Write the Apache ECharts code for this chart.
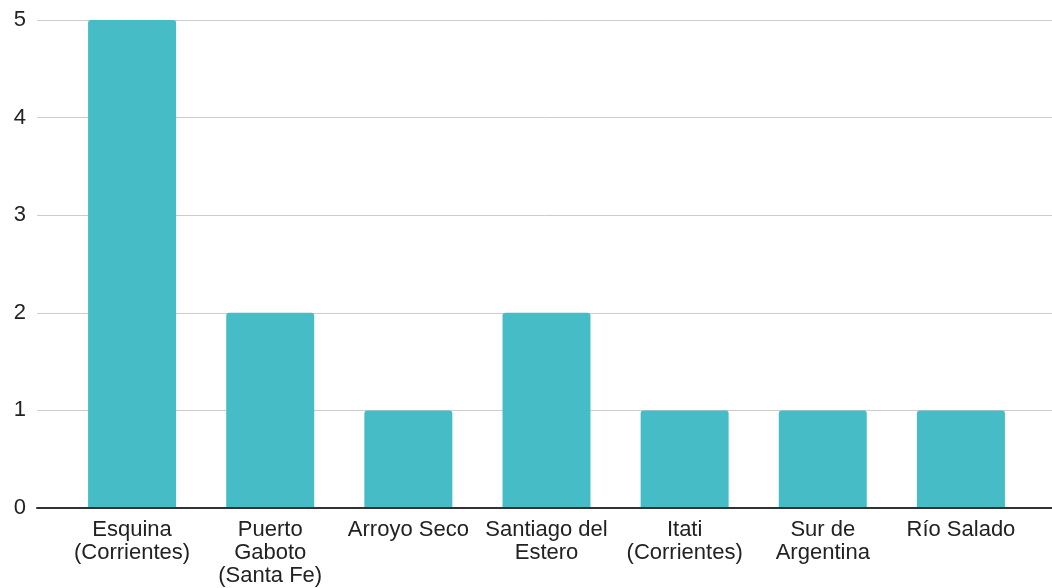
<!DOCTYPE html>
<html>
<head>
<meta charset="utf-8">
<script src="https://cdn.jsdelivr.net/npm/echarts@6/dist/echarts.min.js"></script>
<style>
html,body{margin:0;padding:0;background:#fff;}
#main{width:1052px;height:588px;}
</style>
</head>
<body>
<div id="main"></div>
<script>
const categories = ["Esquina\n(Corrientes)", "Puerto\nGaboto\n(Santa Fe)", "Arroyo Seco", "Santiago del\nEstero", "Itati\n(Corrientes)", "Sur de\nArgentina", "Río Salado"];
const values = [5, 2, 1, 2, 1, 1, 1];
const yTicks = [0, 1, 2, 3, 4, 5];

const chart = echarts.init(document.getElementById('main'));
const font = "'Liberation Sans', Arial, sans-serif";
chart.setOption({
  animation: false,
  grid: [
    {left: 37, right: 0, top: 20, bottom: 80},
    {left: 63, right: 22, top: 20, bottom: 80}
  ],
  xAxis: [
    {
      gridIndex: 0, type: 'value', min: 0, max: 1, z: 5,
      axisLine: {show: true, lineStyle: {color: '#333', width: 2}},
      axisTick: {show: false}, axisLabel: {show: false}, splitLine: {show: false}
    },
    {
      gridIndex: 1, type: 'category', data: categories,
      axisLine: {show: false}, axisTick: {show: false},
      axisLabel: {interval: 0, margin: 10, color: '#222', fontSize: 22, lineHeight: 23, fontFamily: font}
    }
  ],
  yAxis: [
    {
      gridIndex: 0, type: 'value', min: yTicks[0], max: yTicks[yTicks.length - 1], interval: 1,
      axisLine: {show: false}, axisTick: {show: false},
      axisLabel: {color: '#222', fontSize: 22, margin: 11, fontFamily: font, padding: [4, 0, 0, 0]},
      splitLine: {lineStyle: {color: '#cccccc', width: 1}}
    },
    {
      gridIndex: 1, type: 'value', min: yTicks[0], max: yTicks[yTicks.length - 1], interval: 1,
      show: false
    }
  ],
  series: [{
    type: 'bar', xAxisIndex: 1, yAxisIndex: 1, data: values, barWidth: 88,
    itemStyle: {color: '#46bdc6', borderRadius: [3, 3, 0, 0]}
  }]
});
</script>
</body>
</html>
